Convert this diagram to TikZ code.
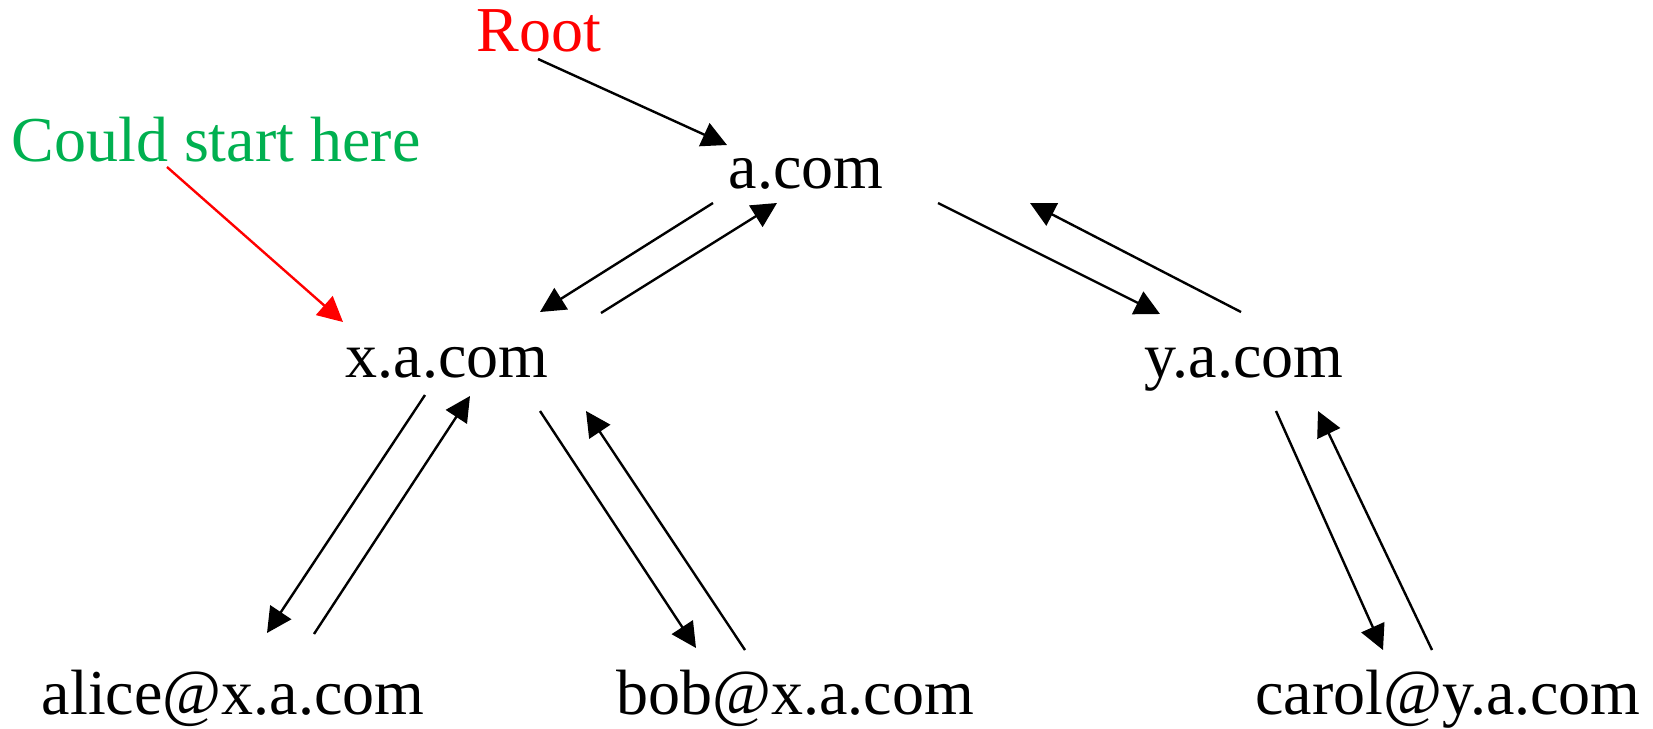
\documentclass[tikz,border=0pt]{standalone}
\usepackage{fontspec}
\setmainfont{Liberation Serif}
\usetikzlibrary{arrows.meta,calc}
\definecolor{hintgreen}{RGB}{0,176,80}
\begin{document}
\begin{tikzpicture}[x=0.5pt,y=-0.5pt,
  lbl/.style={anchor=base,inner sep=0pt,font=\fontsize{32}{38}\selectfont},
  link/.style={line width=1.2pt,-{Triangle[length=12.5pt,width=12.5pt]}},
  hint/.style={link,red}]
\useasboundingbox (0,0) rectangle (1653,728);

% hosts and mailboxes
\node[lbl,red]       (root)  at (539,51)  {Root};
\node[lbl,hintgreen] (could) at (216,161) {Could start here};
\node[lbl] (a)     at (806,188)  {a.com};
\node[lbl] (x)     at (447,377)  {x.a.com};
\node[lbl] (y)     at (1244,377) {y.a.com};
\node[lbl] (alice) at (233,714)  {alice@x.a.com};
\node[lbl] (bob)   at (795,714)  {bob@x.a.com};
\node[lbl] (carol) at (1448,714) {carol@y.a.com};

% annotations
\draw[link] ($(root.base)+(-1,8)$)   -- ($(a.base)+(-79,-43)$);
\draw[hint] ($(could.base)+(-49,6)$) -- ($(x.base)+(-104,-55)$);

% a.com <-> x.a.com
\draw[link] ($(a.base)+(-93,15)$) -- ($(x.base)+(93,-65)$);
\draw[link] ($(x.base)+(154,-64)$) -- ($(a.base)+(-29,15)$);

% a.com <-> y.a.com
\draw[link] ($(a.base)+(132,15)$) -- ($(y.base)+(-84,-63)$);
\draw[link] ($(y.base)+(-3,-65)$) -- ($(a.base)+(224,15)$);

% x.a.com <-> alice
\draw[link] ($(x.base)+(-22,18)$) -- ($(alice.base)+(34,-81)$);
\draw[link] ($(alice.base)+(81,-80)$) -- ($(x.base)+(23,19)$);

% x.a.com <-> bob
\draw[link] ($(x.base)+(93,34)$) -- ($(bob.base)+(-99,-66)$);
\draw[link] ($(bob.base)+(-50,-64)$) -- ($(x.base)+(139,34)$);

% y.a.com <-> carol
\draw[link] ($(y.base)+(32,34)$) -- ($(carol.base)+(-65,-64)$);
\draw[link] ($(carol.base)+(-16,-64)$) -- ($(y.base)+(74,34)$);
\end{tikzpicture}
\end{document}
